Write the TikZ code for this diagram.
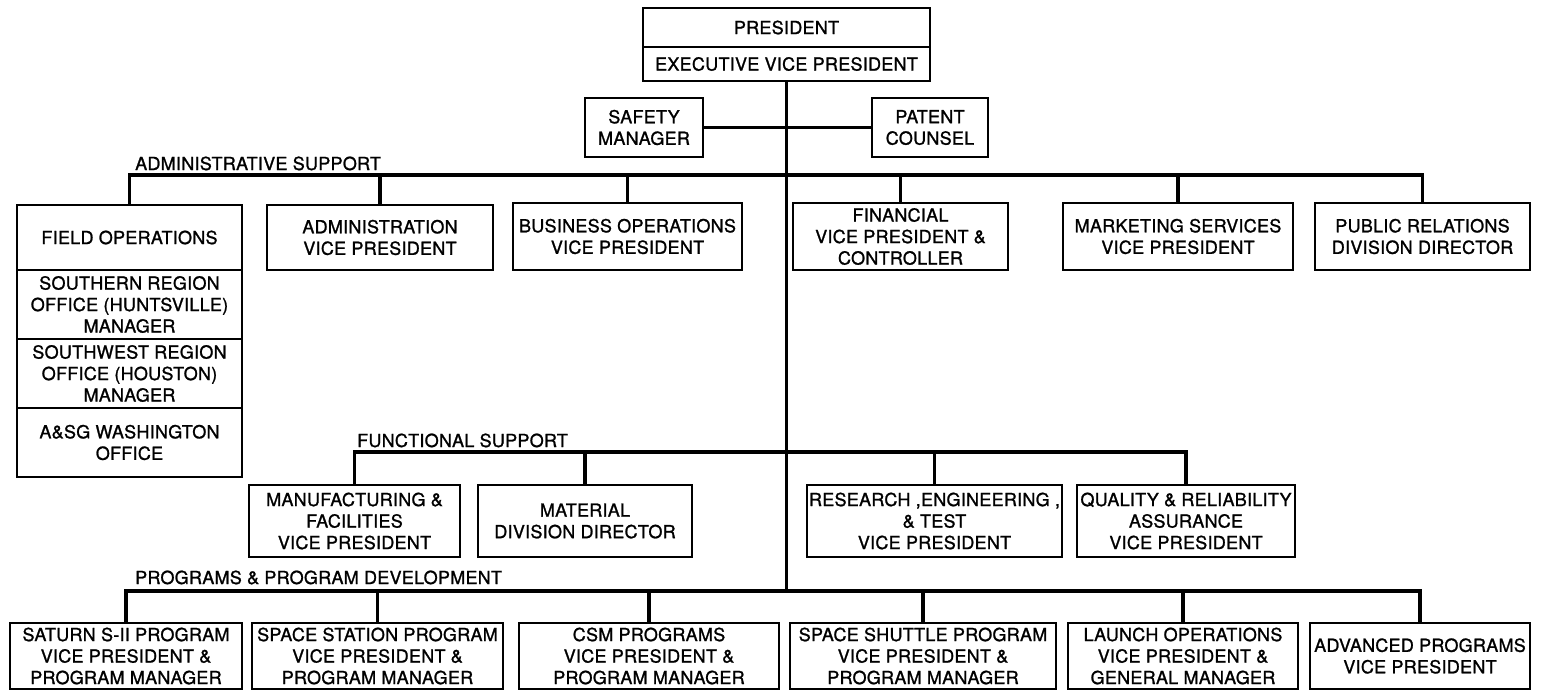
\documentclass[tikz,border=0pt]{standalone}
\usepackage{fontspec}
\setmainfont{TeX Gyre Heros}[LetterSpace=1.5, FakeBold=1.2]
\usepackage{tikz}

\begin{document}
\begin{tikzpicture}[x=1pt, y=-1pt]
    \tikzstyle{unit} = [rectangle, draw, line width=2.6pt, align=center, inner sep=1pt, font=\fontsize{18}{21.5}\selectfont]
    \tikzstyle{conn} = [line width=3.4pt]
    \tikzstyle{grouphead} = [anchor=base west, inner sep=0pt, font=\fontsize{18}{21.5}\selectfont]

    \useasboundingbox (0,0) rectangle (1548,691);

    % Bus heights
    \coordinate (abus) at (0,175);
    \coordinate (fbus) at (0,452);
    \coordinate (pbus) at (0,591);

    % Top office
    \node[unit, minimum width=287pt, minimum height=39pt] (pres) at (786.5,27.5) {PRESIDENT};
    \node[unit, minimum width=287pt, minimum height=34pt] (evp) at (786.5,64) {EXECUTIVE VICE PRESIDENT};
    \node[unit, minimum width=118pt, minimum height=59pt] (safety) at (644,127.5) {SAFETY\\MANAGER};
    \node[unit, minimum width=116pt, minimum height=59pt] (patent) at (930,127.5) {PATENT\\COUNSEL};

    % Administrative support
    \node[unit, minimum width=225pt, minimum height=65pt] (fieldops) at (129.5,237.5) {FIELD OPERATIONS};
    \node[unit, minimum width=225pt, minimum height=69pt] (southern) at (129.5,304.5) {SOUTHERN REGION\\OFFICE (HUNTSVILLE)\\MANAGER};
    \node[unit, minimum width=225pt, minimum height=69pt] (southwest) at (129.5,373.5) {SOUTHWEST REGION\\OFFICE (HOUSTON)\\MANAGER};
    \node[unit, minimum width=225pt, minimum height=69pt] (washington) at (129.5,442.5) {A\&SG WASHINGTON\\OFFICE};
    \node[unit, minimum width=226pt, minimum height=65pt] (admin) at (380,237.5) {ADMINISTRATION\\VICE PRESIDENT};
    \node[unit, minimum width=229pt, minimum height=67pt] (business) at (627.5,236.5) {BUSINESS OPERATIONS\\VICE PRESIDENT};
    \node[unit, minimum width=215pt, minimum height=67pt] (financial) at (900.5,236.5) {FINANCIAL\\VICE PRESIDENT \&\\CONTROLLER};
    \node[unit, minimum width=230pt, minimum height=67pt] (marketing) at (1178,236.5) {MARKETING SERVICES\\VICE PRESIDENT};
    \node[unit, minimum width=215pt, minimum height=67pt] (publicrel) at (1422.5,236.5) {PUBLIC RELATIONS\\DIVISION DIRECTOR};

    % Functional support
    \node[unit, minimum width=211pt, minimum height=72pt] (manuf) at (354.5,521) {MANUFACTURING \&\\FACILITIES\\VICE PRESIDENT};
    \node[unit, minimum width=214pt, minimum height=72pt] (material) at (585,521) {MATERIAL\\DIVISION DIRECTOR};
    \node[unit, minimum width=255pt, minimum height=72pt] (research) at (934.5,521) {RESEARCH ,ENGINEERING ,\\\& TEST\\VICE PRESIDENT};
    \node[unit, minimum width=218pt, minimum height=72pt] (quality) at (1186,521) {QUALITY \& RELIABILITY\\ASSURANCE\\VICE PRESIDENT};

    % Programs & program development
    \node[unit, minimum width=232pt, minimum height=66pt] (saturn) at (126,656) {SATURN S-II PROGRAM\\VICE PRESIDENT \&\\PROGRAM MANAGER};
    \node[unit, minimum width=251pt, minimum height=66pt] (station) at (377.5,656) {SPACE STATION PROGRAM\\VICE PRESIDENT \&\\PROGRAM MANAGER};
    \node[unit, minimum width=260pt, minimum height=66pt] (csm) at (649,656) {CSM PROGRAMS\\VICE PRESIDENT \&\\PROGRAM MANAGER};
    \node[unit, minimum width=266pt, minimum height=66pt] (shuttle) at (923,656) {SPACE SHUTTLE PROGRAM\\VICE PRESIDENT \&\\PROGRAM MANAGER};
    \node[unit, minimum width=230pt, minimum height=66pt] (launch) at (1183,656) {LAUNCH OPERATIONS\\VICE PRESIDENT \&\\GENERAL MANAGER};
    \node[unit, minimum width=220pt, minimum height=66pt] (advanced) at (1420,656) {ADVANCED PROGRAMS\\VICE PRESIDENT};

    % Group titles
    \node[grouphead] (admtitle) at (135,170) {ADMINISTRATIVE SUPPORT};
    \node[grouphead] (funtitle) at (357,447) {FUNCTIONAL SUPPORT};
    \node[grouphead] (prgtitle) at (135,584) {PROGRAMS \& PROGRAM DEVELOPMENT};

    % Trunk and staff line
    \draw[conn] (evp.south) -- (evp.south |- pbus);
    \draw[conn] (safety.east) -- (patent.west);

    % Buses
    \draw[conn] (fieldops.north) -- (fieldops.north |- abus) -- (publicrel.north |- abus) -- (publicrel.north);
    \foreach \u in {admin, business, financial, marketing}
        \draw[conn] (\u.north) -- (\u.north |- abus);
    \draw[conn] (manuf.north) -- (manuf.north |- fbus) -- (quality.north |- fbus) -- (quality.north);
    \foreach \u in {material, research}
        \draw[conn] (\u.north) -- (\u.north |- fbus);
    \draw[conn] (saturn.north) -- (saturn.north |- pbus) -- (advanced.north |- pbus) -- (advanced.north);
    \foreach \u in {station, csm, shuttle, launch}
        \draw[conn] (\u.north) -- (\u.north |- pbus);

\end{tikzpicture}
\end{document}
